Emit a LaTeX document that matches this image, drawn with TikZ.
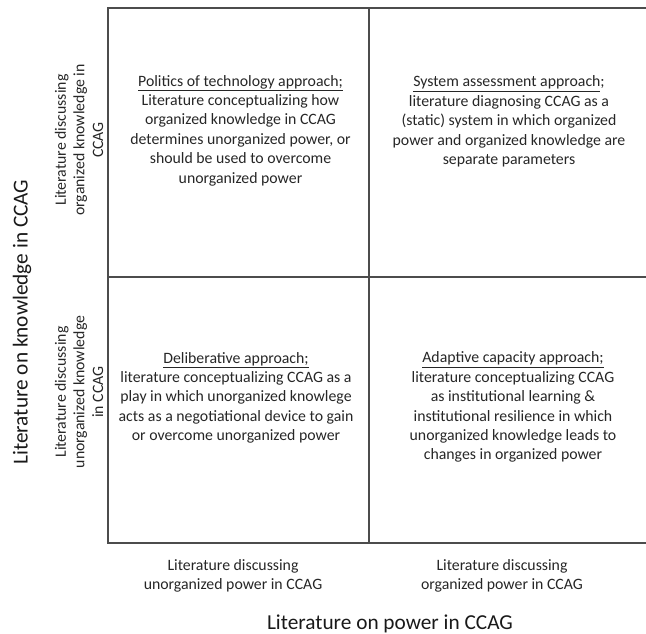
\documentclass[tikz,border=0pt]{standalone}
\usepackage{fontspec}
\setmainfont{Carlito}
\begin{document}
\begin{tikzpicture}[x=1pt,y=-1pt,
  gridline/.style={draw=black!70, line width=1.3pt},
  celltext/.style={font=\fontsize{15.8}{19.4}\selectfont, align=center, text=black!85, inner sep=0pt},
  sidetext/.style={font=\fontsize{15.8}{18.6}\selectfont, align=center, text=black!85, inner sep=0pt},
  axistext/.style={font=\fontsize{21.3}{24}\selectfont, text=black!90, inner sep=0pt}]
\useasboundingbox (0,0) rectangle (646,634);
% grid
\coordinate (g00) at (108,8);
\coordinate (g10) at (369,8);
\coordinate (g20) at (646,8);
\coordinate (g01) at (108,277);
\coordinate (g21) at (646,277);
\coordinate (g02) at (108,543);
\coordinate (g12) at (369,543);
\coordinate (g22) at (646,543);
\draw[gridline] (g20) -- (g00) -- (g02) -- (g22);
\draw[gridline] (g10) -- (g12);
\draw[gridline] (g01) -- (g21);
% cell texts
\node[celltext] (tl) at (240.5,130.5) {\underline{Politics of technology approach;}\\Literature conceptualizing how\\organized knowledge in CCAG\\determines unorganized power, or\\should be used to overcome\\unorganized power};
\node[celltext] (tr) at (509,121.5) {\underline{System assessment approach};\\literature diagnosing CCAG as a\\(static) system in which organized\\power and organized knowledge are\\separate parameters};
\node[celltext] (bl) at (236,397.7) {\underline{Deliberative approach;}\\literature conceptualizing CCAG as a\\play in which unorganized knowlege\\acts as a negotiational device to gain\\or overcome unorganized power};
\node[celltext] (br) at (513,407.2) {\underline{Adaptive capacity approach;}\\literature conceptualizing CCAG\\as institutional learning \&\\institutional resilience in which\\unorganized knowledge leads to\\changes in organized power};
% side labels
\node[sidetext, rotate=90] (ko) at (79,140) {Literature discussing\\organized knowledge in\\CCAG};
\node[sidetext, rotate=90] (ku) at (79,392) {Literature discussing\\unorganized knowledge\\in CCAG};
\node[axistext, rotate=90] (ky) at (22,322) {Literature on knowledge in CCAG};
% bottom labels
\node[sidetext] (pu) at (233,576) {Literature discussing\\unorganized power in CCAG};
\node[sidetext] (po) at (502,576) {Literature discussing\\organized power in CCAG};
\node[axistext] (px) at (390,624) {Literature on power in CCAG};
\end{tikzpicture}
\end{document}
